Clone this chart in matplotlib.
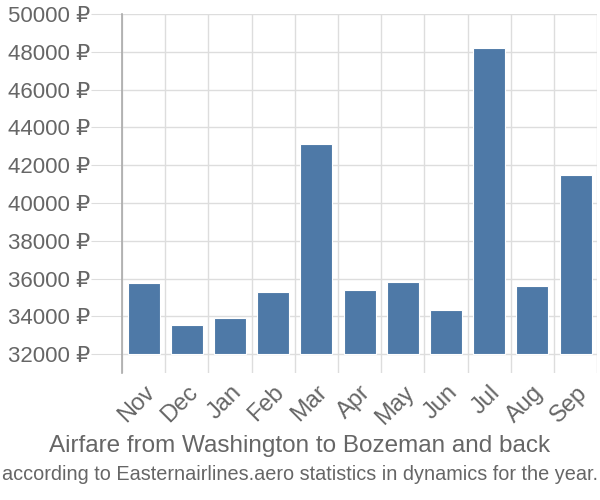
import numpy as np
import matplotlib.pyplot as plt

# datos
meses = ['Nov', 'Dec', 'Jan', 'Feb', 'Mar', 'Apr', 'May', 'Jun', 'Jul', 'Aug', 'Sep']
precios = [35750, 33550, 33900, 35300, 43130, 35400, 35830, 34350, 48200, 35600, 41480]
ticks_y = [32000, 34000, 36000, 38000, 40000, 42000, 44000, 46000, 48000, 50000]
base = 32000

plt.rcParams['font.family'] = ['Liberation Sans', 'DejaVu Sans']
gris_texto = '#666666'
gris_linea = '#dddddd'

fig = plt.figure(figsize=(6, 5), dpi=100)
ax = fig.add_axes([0.2033, 0.254, 0.792, 0.718])

x = np.arange(len(meses))
ax.bar(x, np.array(precios) - base, bottom=base, width=0.74,
       color='#4e79a7', edgecolor='white', linewidth=0.8, zorder=3)

ax.set_xlim(-0.5, len(meses) - 0.5)
ax.set_ylim(31000, 50000)

# rejilla vertical en los limites de cada categoria
for b in np.arange(-0.5, len(meses), 1.0):
    ax.axvline(b, color=gris_linea, linewidth=1, zorder=1)
for t in ticks_y:
    ax.axhline(t, color=gris_linea, linewidth=1, zorder=1)

ax.set_yticks(ticks_y)
ax.set_yticklabels([f'{t} ₽' for t in ticks_y])
ax.tick_params(axis='y', length=22, color=gris_linea, labelcolor=gris_texto,
               labelsize=16, pad=1)
ax.set_xticks(x)
ax.set_xticklabels(meses, rotation=45, ha='right', va='top',
                   rotation_mode='anchor')
ax.tick_params(axis='x', length=0, labelcolor=gris_texto, labelsize=17, pad=6)

for lado in ['top', 'right', 'bottom']:
    ax.spines[lado].set_visible(False)
ax.spines['left'].set_color('#aaaaaa')
ax.spines['left'].set_linewidth(1.2)

fig.text(0.5, 0.108, 'Airfare from Washington to Bozeman and back',
         ha='center', va='center', color=gris_texto, fontsize=17.5)
fig.text(0.5, 0.05, 'according to Easternairlines.aero statistics in dynamics for the year.',
         ha='center', va='center', color=gris_texto, fontsize=14.3,
         family=['Liberation Sans Narrow', 'Liberation Sans', 'DejaVu Sans'])

fig.savefig('out.png', dpi=100)
